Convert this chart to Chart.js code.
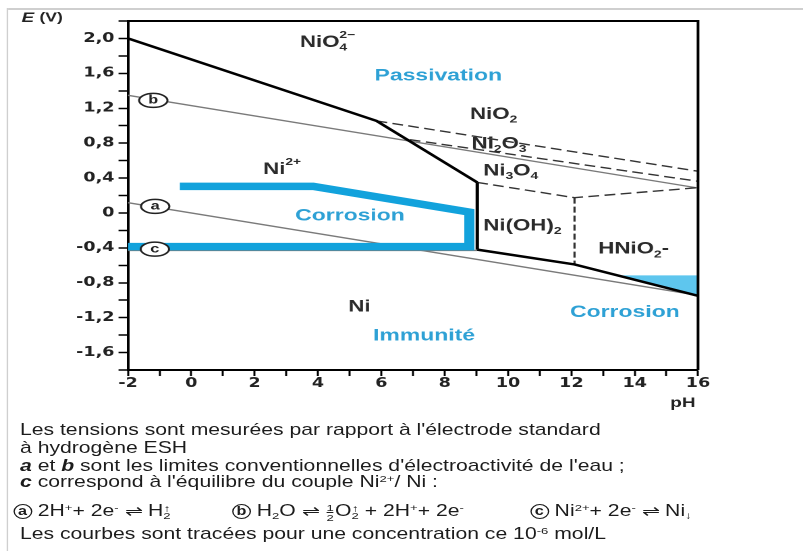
<!DOCTYPE html>
<html>
<head>
<meta charset="utf-8">
<script src="https://cdn.jsdelivr.net/npm/chart.js@4.4.0/dist/chart.umd.min.js"></script>
<style>
  html, body { margin: 0; padding: 0; background: #fff; overflow: hidden; }
  /* the whole figure is drawn narrow and stretched sideways, like the original scan */
  #wrap { position: absolute; left: 0; top: 0; width: 595px; height: 551px;
          transform: scaleX(1.3496); transform-origin: 0 0; }
  #c { position: absolute; left: 0; top: 0; }
  #frameTop { position: absolute; left: 6px; top: 8px; width: 600px; height: 0; border-top: 2px solid #cfcfcf; }
  #frameLeft { position: absolute; left: 5px; top: 8px; width: 0; height: 560px; border-left: 1.6px solid #cfcfcf; }
  .cap { position: absolute; font-family: 'Liberation Sans', Arial, sans-serif; font-size: 15.7px;
         line-height: 18px; color: #1c1c1c; white-space: nowrap; }
  .cap sup { font-size: 0.62em; vertical-align: 0.55em; line-height: 0; }
  .cap sub { font-size: 0.62em; vertical-align: -0.3em; line-height: 0; }
  .circ { display: inline-block; width: 12px; height: 13px; border: 1.3px solid #1c1c1c; border-radius: 50%;
          text-align: center; line-height: 13px; font-size: 12px; font-weight: bold; vertical-align: 1px; }
  .ss { display: inline-block; font-size: 0.62em; line-height: 0.8em; vertical-align: -0.35em; text-align: center; }
  .ss span, .frac span { display: block; }
  .frac { display: inline-block; font-size: 0.62em; line-height: 0.95em; vertical-align: -0.5em; text-align: center; margin: 0 1px; }
  .frac span:first-child { border-bottom: 1px solid #1c1c1c; }
</style>
</head>
<body>
<div id="wrap">
  <canvas id="c" style="width:595px;height:551px"></canvas>
  <div id="frameTop"></div>
  <div id="frameLeft"></div>
  <div class="cap" style="left:14.8px; top:421px">Les tensions sont mesurées par rapport à l'électrode standard</div>
  <div class="cap" style="left:14.8px; top:439px">à hydrogène ESH</div>
  <div class="cap" style="left:14.8px; top:457px"><b><i>a</i></b> et <b><i>b</i></b> sont les limites conventionnelles d'électroactivité de l'eau ;</div>
  <div class="cap" style="left:14.8px; top:473px"><b><i>c</i></b> correspond à l'équilibre du couple Ni<sup>2+</sup>/ Ni :</div>
  <div class="cap" style="left:9.6px; top:502px"><span class="circ">a</span> 2H<sup>+</sup>+ 2e<sup>-</sup> ⇌ H<span class="ss"><span>↑</span><span>2</span></span></div>
  <div class="cap" style="left:171.9px; top:502px"><span class="circ">b</span> H<sub>2</sub>O ⇌ <span class="frac"><span>1</span><span>2</span></span>O<span class="ss"><span>↑</span><span>2</span></span> + 2H<sup>+</sup>+ 2e<sup>-</sup></div>
  <div class="cap" style="left:392.6px; top:502px"><span class="circ">c</span> Ni<sup>2+</sup>+ 2e<sup>-</sup> ⇌ Ni<sub>↓</sub></div>
  <div class="cap" style="left:14.8px; top:525px">Les courbes sont tracées pour une concentration ce 10<sup>-6</sup> mol/L</div>
</div>
<script>
// axis ranges (pH, E in V)
const phRange = [-2, 16];
const eRange = [-1.8, 2.2];

// boundaries
const nio4PH = [-2, 5.85, 9.03];
const nio4E = [2.0, 1.055, 0.35];
const ph9PH = [9.03, 9.03];
const ph9E = [0.35, -0.42];
const lowPH = [9.03, 12.1, 16];
const lowE = [-0.42, -0.59, -0.95];

// water lines a, b and Ni2+/Ni line c
const lineAPH = [-2, 16];
const lineAE = [0.118, -0.944];
const lineBPH = [-2, 16];
const lineBE = [1.348, 0.286];
const lineCPH = [-2, 9.03];
const lineCE = [-0.43, -0.43];

// dashed oxide boundaries
const nio2PH = [5.85, 16];
const nio2E = [1.055, 0.478];
const ni2o3PH = [6.9, 16];
const ni2o3E = [0.84, 0.363];
const ni3o4PH = [9.03, 12.1, 16];
const ni3o4E = [0.35, 0.175, 0.29];
const hnio2PH = [12.1, 12.1];
const hnio2E = [0.175, -0.59];

// corrosion zones
const corrPH = [-0.36, 3.85, 8.78, 8.78, -2];
const corrE = [0.305, 0.305, 0.01, -0.386, -0.386];
const corr2PH = [13.4, 16, 16, 13.4];
const corr2E = [-0.715, -0.715, -0.95, -0.715];

// species names and zone names
const speciesLabels = [
  { ph: 3.43, e: 1.955, parts: [['NiO', 'n'], ['4|2−', 'stack']] },
  { ph: 8.8, e: 1.13, parts: [['NiO', 'n'], ['2', 'sub']] },
  { ph: 8.85, e: 0.79, parts: [['Ni', 'n'], ['2', 'sub'], ['O', 'n'], ['3', 'sub']] },
  { ph: 9.22, e: 0.48, parts: [['Ni', 'n'], ['3', 'sub'], ['O', 'n'], ['4', 'sub']] },
  { ph: 2.27, e: 0.50, parts: [['Ni', 'n'], ['2+', 'sup']] },
  { ph: 9.22, e: -0.15, parts: [['Ni(OH)', 'n'], ['2', 'sub']] },
  { ph: 12.85, e: -0.415, parts: [['HNiO', 'n'], ['2', 'sub'], ['-', 'n']] },
  { ph: 4.96, e: -1.08, parts: [['Ni', 'n']] }
];
const zoneLabels = [
  { ph: 7.8, e: 1.57, text: 'Passivation' },
  { ph: 5.01, e: -0.03, text: 'Corrosion' },
  { ph: 7.35, e: -1.41, text: 'Immunité' },
  { ph: 13.69, e: -1.14, text: 'Corrosion' }
];
const markers = [
  { ph: -1.2, e: 1.29, text: 'b' },
  { ph: -1.14, e: 0.075, text: 'a' },
  { ph: -1.15, e: -0.415, text: 'c' }
];

const FONT = "'Liberation Sans', Arial, sans-serif";
const BLUE = '#12a2dc';

function pts(ph, e) {
  return ph.map((x, i) => ({ x: x, y: e[i] }));
}

function line(ph, e, color, width, dash, order) {
  return {
    data: pts(ph, e), showLine: true, borderColor: color, borderWidth: width,
    borderDash: dash || [], pointRadius: 0, fill: false, tension: 0, order: order,
    borderJoinStyle: 'miter'
  };
}

function drawRich(ctx, x0, y0, parts, size, weight, color) {
  ctx.fillStyle = color;
  ctx.textBaseline = 'middle';
  ctx.textAlign = 'left';
  let cx = x0;
  const small = size * 0.62;
  for (const [t, k] of parts) {
    if (k === 'n') {
      ctx.font = weight + ' ' + size + 'px ' + FONT;
      ctx.fillText(t, cx, y0);
      cx += ctx.measureText(t).width;
    } else if (k === 'sub' || k === 'sup') {
      ctx.font = weight + ' ' + small + 'px ' + FONT;
      ctx.fillText(t, cx, y0 + (k === 'sub' ? size * 0.32 : -size * 0.42));
      cx += ctx.measureText(t).width;
    } else {
      const [lo, hi] = t.split('|');
      ctx.font = weight + ' ' + small + 'px ' + FONT;
      ctx.fillText(lo, cx, y0 + size * 0.32);
      ctx.fillText(hi, cx, y0 - size * 0.45);
      cx += Math.max(ctx.measureText(lo).width, ctx.measureText(hi).width);
    }
  }
}

const labelsPlugin = {
  id: 'labels',
  afterDatasetsDraw(chart) {
    const { ctx, chartArea: a, scales: { x, y } } = chart;
    ctx.save();
    // top and right sides of the frame
    ctx.strokeStyle = '#000';
    ctx.lineWidth = 2;
    ctx.beginPath();
    ctx.moveTo(a.left, a.top);
    ctx.lineTo(a.right, a.top);
    ctx.lineTo(a.right, a.bottom);
    ctx.stroke();

    // circled a, b, c
    markers.forEach(m => {
      const px = x.getPixelForValue(m.ph), py = y.getPixelForValue(m.e);
      ctx.beginPath();
      ctx.ellipse(px, py, 10.5, 7, 0, 0, Math.PI * 2);
      ctx.fillStyle = '#fff';
      ctx.fill();
      ctx.lineWidth = 1.5;
      ctx.strokeStyle = '#222';
      ctx.stroke();
      ctx.fillStyle = '#222';
      ctx.font = 'bold 12px ' + FONT;
      ctx.textAlign = 'center';
      ctx.textBaseline = 'middle';
      ctx.fillText(m.text, px, py);
    });

    speciesLabels.forEach(l => {
      drawRich(ctx, x.getPixelForValue(l.ph), y.getPixelForValue(l.e), l.parts, 16.5, 'bold', '#2b2b2b');
    });

    ctx.fillStyle = '#2ea1d5';
    ctx.font = 'bold 17px ' + FONT;
    ctx.textAlign = 'center';
    ctx.textBaseline = 'middle';
    zoneLabels.forEach(l => {
      ctx.fillText(l.text, x.getPixelForValue(l.ph), y.getPixelForValue(l.e));
    });

    // axis names
    ctx.fillStyle = '#222';
    ctx.textAlign = 'left';
    ctx.font = 'italic bold 14px ' + FONT;
    ctx.fillText('E', 16, 18);
    const w = ctx.measureText('E ').width;
    ctx.font = 'bold 13px ' + FONT;
    ctx.fillText('(V)', 16 + w, 18);
    ctx.textAlign = 'center';
    ctx.font = 'bold 14px ' + FONT;
    ctx.fillText('pH', 506, 403);
    ctx.restore();
  }
};

const tickFont = { family: "'DejaVu Sans', sans-serif", size: 13, weight: 'bold' };

new Chart(document.getElementById('c'), {
  type: 'scatter',
  data: {
    datasets: [
      { data: pts(corr2PH, corr2E), showLine: true, borderWidth: 0, pointRadius: 0,
        backgroundColor: '#5ec6ee', fill: 'shape', order: 20 },
      line(lineAPH, lineAE, '#7a7a7a', 1.4, [], 12),
      line(lineBPH, lineBE, '#7a7a7a', 1.4, [], 12),
      line(lineCPH, lineCE, '#7a7a7a', 1.4, [], 12),
      line(corrPH, corrE, BLUE, 7.5, [], 8),
      line(nio2PH, nio2E, '#333', 1.4, [8, 4], 5),
      line(ni2o3PH, ni2o3E, '#333', 1.4, [8, 4], 5),
      line(ni3o4PH, ni3o4E, '#333', 1.4, [8, 4], 5),
      line(hnio2PH, hnio2E, '#333', 1.6, [6, 3], 5),
      line(nio4PH, nio4E, '#000', 2.5, [], 1),
      line(ph9PH, ph9E, '#000', 2.5, [], 1),
      line(lowPH, lowE, '#000', 2.5, [], 1)
    ]
  },
  options: {
    responsive: false,
    animation: false,
    devicePixelRatio: 2,
    layout: { padding: { left: 0, right: 77.8, top: 21, bottom: 141 } },
    plugins: { legend: { display: false }, tooltip: { enabled: false } },
    scales: {
      x: {
        type: 'linear', min: phRange[0], max: phRange[1],
        afterFit: s => { s.height = 40; },
        border: { display: true, color: '#000', width: 2 },
        grid: { drawOnChartArea: false, drawTicks: true, tickLength: 6, tickColor: '#000', tickWidth: 1.5 },
        ticks: {
          stepSize: 1, autoSkip: false, maxRotation: 0, padding: 0, color: '#222', font: tickFont,
          callback: v => (v % 2 === 0 ? String(v) : '')
        }
      },
      y: {
        type: 'linear', min: eRange[0], max: eRange[1],
        afterFit: s => { s.width = 94.8; },
        border: { display: true, color: '#000', width: 2 },
        grid: { drawOnChartArea: false, drawTicks: true, tickLength: 7, tickColor: '#000', tickWidth: 1.5 },
        ticks: {
          stepSize: 0.2, autoSkip: false, padding: 3, color: '#222', font: tickFont,
          callback: v => {
            const k = Math.round(v * 10);
            if (k % 4 !== 0 || k > 20 || k < -16) return '';
            return k === 0 ? '0' : (k / 10).toFixed(1).replace('.', ',');
          }
        }
      }
    }
  },
  plugins: [labelsPlugin]
});
</script>
</body>
</html>
